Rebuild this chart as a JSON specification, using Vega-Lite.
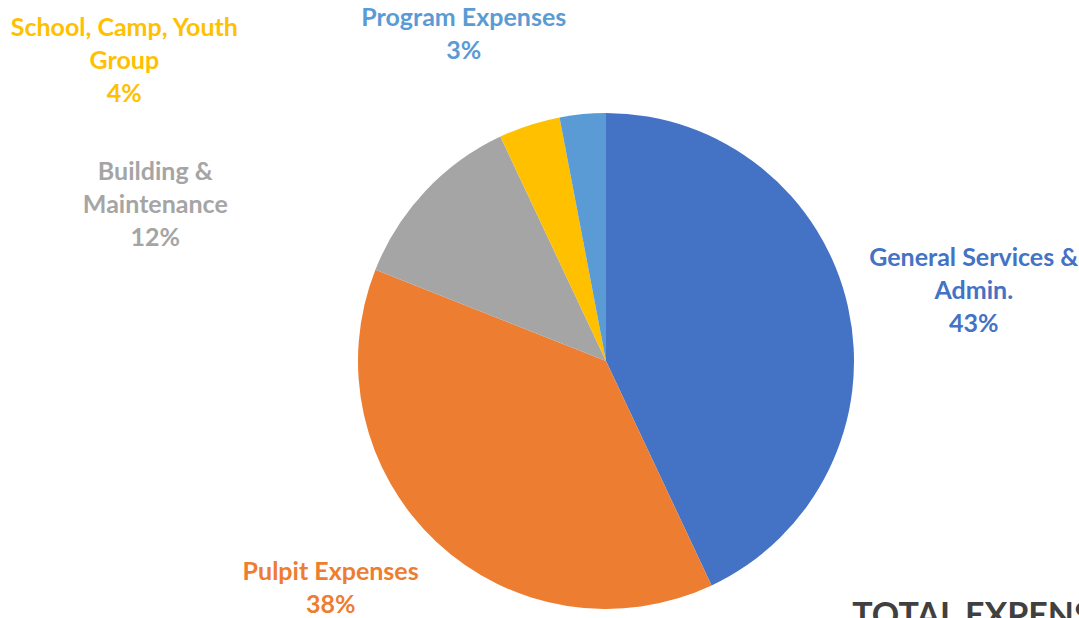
{
  "$schema": "https://vega.github.io/schema/vega-lite/v6.json",
  "width": 946,
  "height": 514,
  "autosize": {"type": "none"},
  "padding": {"left": 133, "top": 104, "right": 0, "bottom": 0},
  "background": "white",
  "config": {"view": {"stroke": null}},
  "title": {
    "text": "TOTAL EXPENSES",
    "orient": "bottom",
    "anchor": "start",
    "baseline": "top",
    "offset": 0,
    "dx": 842,
    "dy": -18,
    "font": "Lato",
    "fontSize": 34,
    "fontWeight": "bold",
    "color": "#404040"
  },
  "data": {
    "values": [
      {"category": "General Services & Admin.", "label": "General Services &\nAdmin.\n43%", "value": 43, "order": 1},
      {"category": "Pulpit Expenses", "label": "Pulpit Expenses\n38%", "value": 38, "order": 2},
      {"category": "Building & Maintenance", "label": "Building &\nMaintenance\n12%", "value": 12, "order": 3},
      {"category": "School, Camp, Youth Group", "label": "School, Camp, Youth\nGroup\n4%", "value": 4, "order": 4},
      {"category": "Program Expenses", "label": "Program Expenses\n3%", "value": 3, "order": 5}
    ]
  },
  "encoding": {
    "theta": {"field": "value", "type": "quantitative", "stack": true},
    "order": {"field": "order", "type": "quantitative"},
    "color": {
      "field": "category",
      "type": "nominal",
      "legend": null,
      "scale": {
        "domain": ["General Services & Admin.", "Pulpit Expenses", "Building & Maintenance", "School, Camp, Youth Group", "Program Expenses"],
        "range": ["#4472C4", "#ED7D31", "#A5A5A5", "#FFC000", "#5B9BD5"]
      }
    }
  },
  "layer": [
    {"mark": {"type": "arc", "outerRadius": 248}},
    {
      "mark": {
        "type": "text",
        "radius": 300,
        "lineBreak": "\n",
        "lineHeight": 33,
        "font": "Lato",
        "fontSize": 25,
        "fontWeight": "bold",
        "align": "center",
        "baseline": "middle",
        "dx": {"expr": "datum.order == 1 ? 75 : datum.order == 2 ? -70 : datum.order == 3 ? -232 : datum.order == 4 ? -389 : -114"},
        "dy": {"expr": "datum.order == 1 ? -38 : datum.order == 2 ? -8 : datum.order == 3 ? 16 : datum.order == 4 ? -48 : -44"}
      },
      "encoding": {"text": {"field": "label", "type": "nominal"}}
    }
  ]
}
